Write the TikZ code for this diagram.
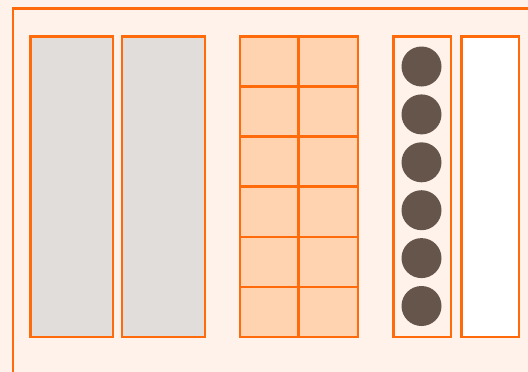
\documentclass[tikz,border=0pt]{standalone}
\definecolor{bgpeach}{HTML}{FFF2EA}
\definecolor{orng}{HTML}{FF6A0A}
\definecolor{grayfill}{HTML}{E0DDDA}
\definecolor{cellfill}{HTML}{FFD2B0}
\definecolor{dotbrown}{HTML}{66554B}
\tikzset{
  box/.style={draw=orng, line width=2.5pt},
  dot/.style={circle, fill=dotbrown, minimum size=40pt, inner sep=0pt, draw=none}
}
\begin{document}
\begin{tikzpicture}[x=1pt,y=-1pt]
\useasboundingbox (0,0) rectangle (528,372);
\fill[bgpeach] (0,0) rectangle (528,372);
\begin{scope}
\clip (0,0) rectangle (528,372);
\draw[box] (13,8.5) rectangle (545,390);
\end{scope}
% gray panels
\draw[box, fill=grayfill] (30.5,36.5) rectangle (113,337);
\draw[box, fill=grayfill] (122,36.5) rectangle (205,337);
% grid
\fill[cellfill] (240,36.5) rectangle (358,337);
\foreach \i in {0,...,6} {
  \draw[orng, line width=2.5pt] (240,{36.5+\i*50.08}) -- (358,{36.5+\i*50.08});
}
\draw[orng, line width=2.5pt] (240,35.3) -- (240,338.2);
\draw[orng, line width=2.5pt] (298.5,35.3) -- (298.5,338.2);
\draw[orng, line width=2.5pt] (358,35.3) -- (358,338.2);
% dot column
\draw[box] (393.5,36.5) rectangle (451,337);
\foreach \i in {0,...,5} {
  \node[dot] (d\i) at (421.5,{66.5+\i*47.9}) {};
}
% white panel
\draw[box, fill=white] (461.5,36.5) rectangle (519,337);
\end{tikzpicture}
\end{document}
